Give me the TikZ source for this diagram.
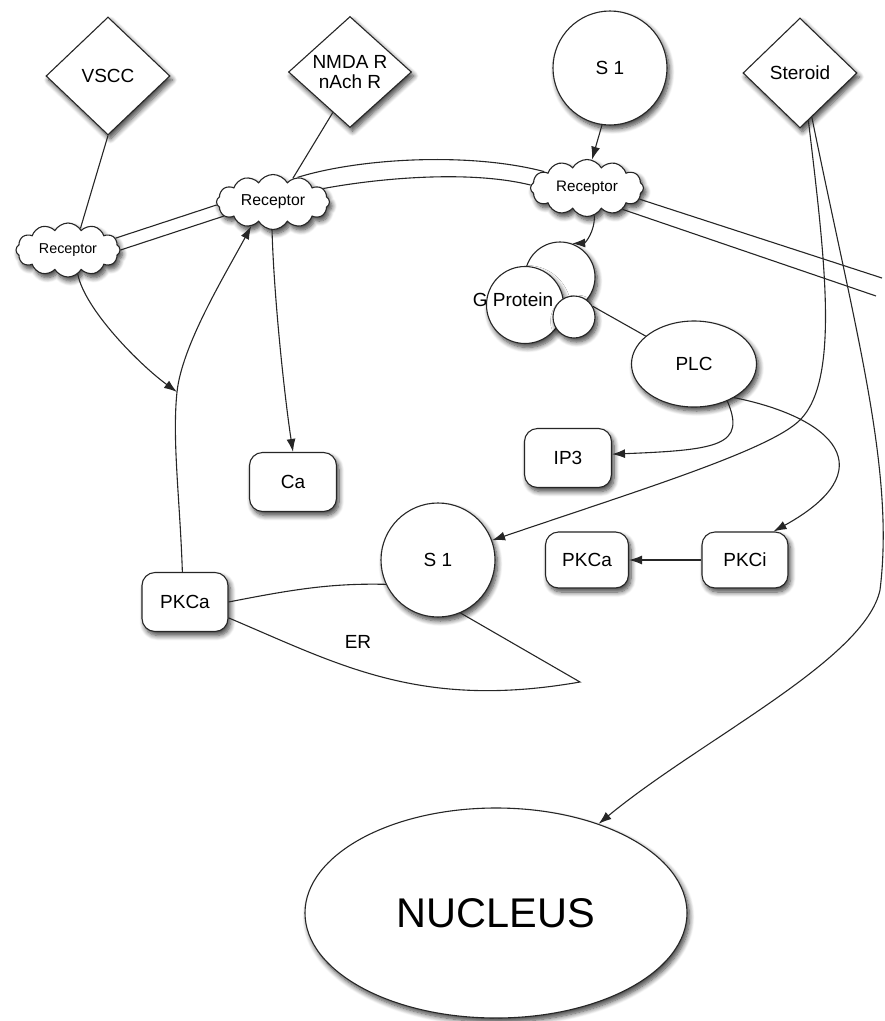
\documentclass[tikz,border=0pt]{standalone}
\usepackage{fontspec}
\setmainfont{Liberation Sans}
\usetikzlibrary{shapes.geometric,shapes.symbols,arrows.meta,shadows.blur}
\begin{document}
\begin{tikzpicture}[x=1pt,y=1pt,
  every node/.style={font=\fontsize{19}{20}\selectfont},
  dropsh/.style={blur shadow={shadow xshift=2.5pt,shadow yshift=-4pt,
      shadow blur steps=8,shadow blur radius=5pt,shadow opacity=75}},
  thing/.style={draw=black!85, fill=white, line width=1.1pt, inner sep=0pt, dropsh},
  gate/.style={thing, diamond},
  recep/.style={thing, cloud, cloud puffs=12, cloud puff arc=120,
      cloud ignores aspect},
  blob/.style={thing, circle},
  oval/.style={thing, ellipse},
  box/.style={thing, rectangle, rounded corners=13pt},
  link/.style={line width=1.1pt, draw=black!85},
  arrow/.style={link, -{Latex[length=13pt,width=9pt]}}
]
\useasboundingbox (0,0) rectangle (885,-1021);

% ligands and channels at the top
\node[gate, minimum width=124pt, minimum height=118pt] (vscc) at (108,-76) {VSCC};
\node[gate, minimum width=123pt, minimum height=111pt, align=center] (nmda) at (350,-72) {NMDA R\\nAch R};
\node[blob, minimum size=114pt] (s1t) at (610,-68) {S 1};
\node[gate, minimum width=114pt, minimum height=110pt] (ster) at (800,-73) {Steroid};

% receptors in the membrane
\node[recep, minimum width=104pt, minimum height=54pt, font=\fontsize{14.3}{16}\selectfont] (rl) at (68,-250) {Receptor};
\node[recep, minimum width=113pt, minimum height=55pt, font=\fontsize{15.8}{17}\selectfont] (rm) at (273,-202) {Receptor};
\node[recep, minimum width=113pt, minimum height=57pt, font=\fontsize{15.2}{17}\selectfont] (rr) at (587,-188) {Receptor};

% G protein subunits
\node[blob, minimum size=70pt] (g1) at (560,-277) {};
\node[blob, minimum size=77pt] (g2) at (525,-305) {};
\node[blob, minimum size=42pt] (g3) at (574,-317) {};
\node (gtxt) at (513,-300) {G Protein};

% cytoplasm
\node[oval, minimum width=125pt, minimum height=86pt] (plc) at (694,-364) {PLC};
\node[box, minimum width=87pt, minimum height=59pt] (ip3) at (568,-458) {IP3};
\node[box, minimum width=83pt, minimum height=56pt] (pkcr) at (587,-560) {PKCa};
\node[box, minimum width=86pt, minimum height=56pt] (pkci) at (745,-560) {PKCi};
\node[box, minimum width=87pt, minimum height=59pt] (ca) at (293,-482) {Ca};
\node[box, minimum width=86pt, minimum height=59pt] (pkcl) at (185,-602) {PKCa};
\node[blob, minimum size=114pt] (s1b) at (438,-560) {S 1};
\node (er) at (358,-642) {ER};
\node[oval, minimum width=382pt, minimum height=210pt, font=\fontsize{41.5}{44}\selectfont] (nuc) at (496,-913) {NUCLEUS};

% free ends of the membrane and helper points
\coordinate (mU) at (882,-278);
\coordinate (mL) at (876,-296);
\coordinate (j) at (177,-392);
\coordinate (ertip) at (580,-682);

% membrane
\draw[link] (rl.14) -- (rm.183);
\draw[link] (rl.0) -- (rm.196);
\draw[link] (rm.45) .. controls (360,-158) and (470,-152) .. (rr.159);
\draw[link] (rm.15) .. controls (380,-178) and (470,-170) .. (rr.177);
\draw[link] (rr.-12) -- (mU);
\draw[link] (rr.-31) -- (mL);

% channel links
\draw[link] (vscc.south) -- (rl.60);
\draw[link] (nmda.247) -- (rm.50);

% signalling arrows
\draw[arrow] (s1t.262) -- (rr.80);
\draw[arrow] (rr.285) .. controls (595,-232) and (585,-243) .. (g1.70);
\draw[link] (g3.30) -- (plc.150);
\draw[arrow] (rm.268) .. controls (274,-300) and (285,-400) .. (ca.north);
\draw[arrow] (rl.292) .. controls (85,-310) and (140,-365) .. (j);
\draw[arrow] (pkcl.95) .. controls (180,-500) and (172,-440) .. (j)
  .. controls (182,-345) and (225,-275) .. (rm.228);
\draw[link] (pkcl.east) .. controls (290,-590) and (330,-583) .. (s1b.205);
\draw[link] (pkcl.-20) .. controls (340,-665) and (420,-710) .. (ertip) -- (s1b.-67);
\draw[arrow] (plc.-48) .. controls (746,-445) and (720,-450) .. (ip3.5);
\draw[arrow] (plc.-40) .. controls (835,-418) and (885,-470) .. (pkci.45);
\draw[arrow] (pkci.west) -- (pkcr.east);
\draw[arrow] (ster.-80) .. controls (825,-260) and (840,-380) .. (800,-420)
  .. controls (770,-450) and (640,-490) .. (s1b.20);
\draw[arrow] (ster.-75) .. controls (855,-330) and (895,-470) .. (880,-590)
  .. controls (865,-660) and (700,-740) .. (nuc.41);
\end{tikzpicture}
\end{document}
